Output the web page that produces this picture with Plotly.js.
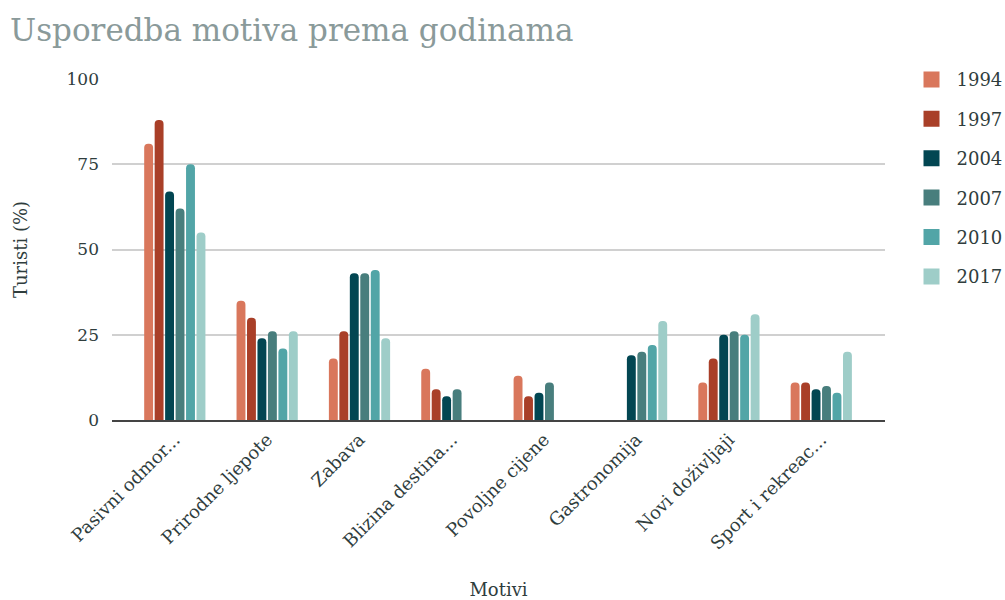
<!DOCTYPE html>
<html>
<head>
<meta charset="utf-8">
<script src="https://cdn.plot.ly/plotly-3.0.1.min.js"></script>
<style>html,body{margin:0;padding:0;background:#fff;}#chart{width:1005px;height:600px;}</style>
</head>
<body>
<div id="chart"></div>
<script>
const categories = ["Pasivni odmor...", "Prirodne ljepote", "Zabava", "Blizina destina...", "Povoljne cijene", "Gastronomija", "Novi doživljaji", "Sport i rekreac..."];
const years = ["1994", "1997", "2004", "2007", "2010", "2017"];
const v1994 = [81, 35, 18, 15, 13, null, 11, 11];
const v1997 = [88, 30, 26, 9, 7, null, 18, 11];
const v2004 = [67, 24, 43, 7, 8, 19, 25, 9];
const v2007 = [62, 26, 43, 9, 11, 20, 26, 10];
const v2010 = [75, 21, 44, null, null, 22, 25, 8];
const v2017 = [55, 26, 24, null, null, 29, 31, 20];
const colors = ["#D9775C", "#A93F28", "#024652", "#487E7D", "#52A5A7", "#9ECDC8"];
const series = [v1994, v1997, v2004, v2007, v2010, v2017];

const FONT = "DejaVu Serif, Liberation Serif, serif";
const TXT = "#2f3d3d";
const traces = series.map((vals, i) => ({
  type: "bar",
  name: years[i],
  x: categories,
  y: vals,
  marker: {color: colors[i], cornerradius: 4},
  showlegend: false,
  hoverinfo: "x+y+name"
}));
// legend entries (larger square swatches)
years.forEach((yr, i) => {
  traces.push({
    type: "scatter", mode: "markers", name: yr,
    x: [null], y: [null],
    legendgroup: yr,
    marker: {symbol: "square", size: 16, color: colors[i]},
    showlegend: true
  });
});

const layout = {
  width: 1005, height: 600,
  paper_bgcolor: "#fff", plot_bgcolor: "#fff",
  font: {family: FONT, color: TXT, size: 17},
  title: {text: "Usporedba motiva prema godinama", x: 0.01, xanchor: "left", y: 0.95, yanchor: "middle",
          font: {family: FONT, size: 31, color: "#8A9A9A"}},
  margin: {l: 112, r: 120, t: 79, b: 180},
  barmode: "group",
  bargap: 0.32,
  bargroupgap: 0.15,
  xaxis: {
    title: {text: "Motivi", font: {size: 18, color: TXT}, standoff: 34},
    range: [-0.68, 7.69],
    tickangle: -45,
    tickfont: {size: 18, color: TXT},
    showline: true, linecolor: "#444", linewidth: 2,
    showgrid: false, ticks: ""
  },
  yaxis: {
    title: {text: "Turisti (%)", font: {size: 18, color: TXT}, standoff: 34},
    range: [0, 100],
    tickvals: [0, 25, 50, 75, 100],
    tickfont: {size: 17, color: TXT},
    ticklabelstandoff: 12,
    showgrid: true, gridcolor: "#d0d0d0", gridwidth: 2,
    zeroline: false, showline: false, ticks: ""
  },
  legend: {xref: "container", yref: "container", x: 0.902, xanchor: "left", y: 0.898, yanchor: "top",
           font: {size: 18, color: TXT}, tracegroupgap: 13, itemwidth: 40}
};
Plotly.newPlot("chart", traces, layout, {displayModeBar: false});
</script>
</body>
</html>
